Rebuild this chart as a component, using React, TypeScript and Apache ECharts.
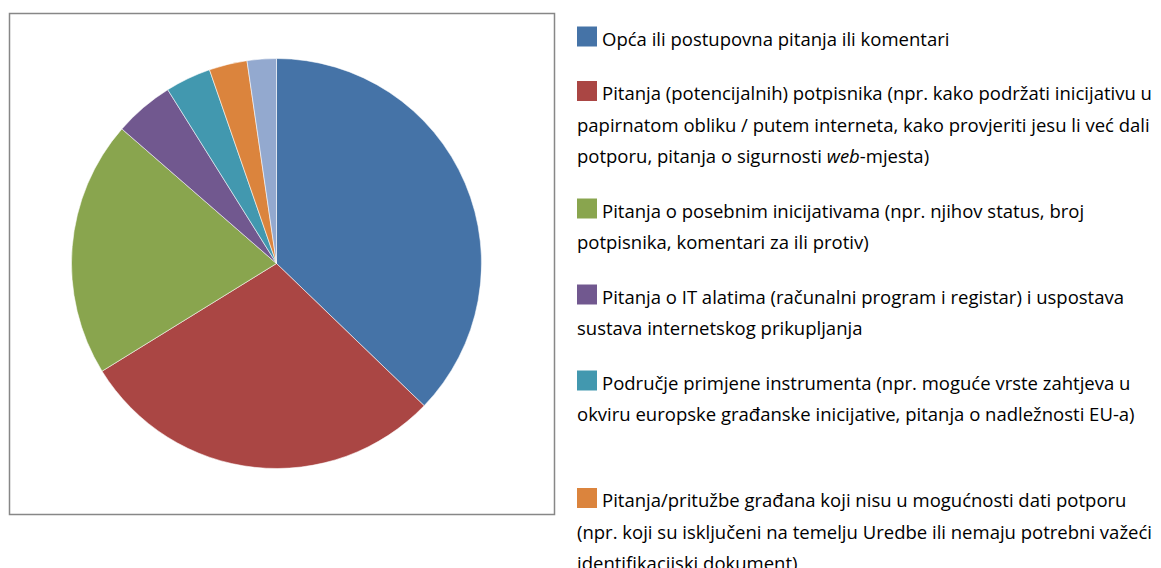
import React, { useEffect, useRef } from "react";
import * as echarts from "echarts";

const categories = [
  "Opća ili postupovna pitanja ili komentari",
  "Pitanja (potencijalnih) potpisnika",
  "Pitanja o posebnim inicijativama",
  "Pitanja o IT alatima",
  "Područje primjene instrumenta",
  "Pitanja/pritužbe građana koji nisu u mogućnosti dati potporu",
  "Ostalo",
];

const values = [37.2, 29.0, 20.2, 4.7, 3.6, 3.0, 2.3];

const colors = ["#4573A7", "#AA4644", "#89A54E", "#71588F", "#4298AF", "#DB843D", "#93A9CF"];

// legend text lines (visible part of the legend)
const legendLines: string[][] = [
  ["Opća ili postupovna pitanja ili komentari"],
  [
    "Pitanja (potencijalnih) potpisnika (npr. kako podržati inicijativu u",
    "papirnatom obliku / putem interneta, kako provjeriti jesu li već dali",
    "potporu, pitanja o sigurnosti {i|web}-mjesta)",
  ],
  [
    "Pitanja o posebnim inicijativama (npr. njihov status, broj",
    "potpisnika, komentari za ili protiv)",
  ],
  [
    "Pitanja o IT alatima (računalni program i registar) i uspostava",
    "sustava internetskog prikupljanja",
  ],
  [
    "Područje primjene instrumenta (npr. moguće vrste zahtjeva u",
    "okviru europske građanske inicijative, pitanja o nadležnosti EU-a)",
    "",
  ],
  [
    "Pitanja/pritužbe građana koji nisu u mogućnosti dati potporu",
    "(npr. koji su isključeni na temelju Uredbe ili nemaju potrebni važeći",
    "identifikacijski dokument)",
  ],
];

export default function App() {
  const ref = useRef<HTMLDivElement>(null);
  useEffect(() => {
    if (!ref.current) return;
    const chart = echarts.init(ref.current, null, { renderer: "svg" });
    const font = "Open Sans";
    const fontSize = 18.5;
    const lineH = 31.5;
    const gap = 54.5;
    const legendX = 577;
    const sq = 20;
    const graphics: any[] = [];
    graphics.push({
      type: "rect",
      shape: { x: 9.5, y: 13.5, width: 545, height: 501 },
      style: { fill: "#fff", stroke: "#878787", lineWidth: 1.5 },
      z: -10,
    });
    let y = 38;
    legendLines.forEach((lines, i) => {
      graphics.push({
        type: "rect",
        shape: { x: legendX, y: y - 11.5, width: sq, height: sq },
        style: { fill: colors[i] },
      });
      lines.forEach((ln, j) => {
        if (!ln) return;
        graphics.push({
          type: "text",
          x: j === 0 ? legendX + sq + 5 : legendX,
          y: y + j * lineH,
          style: {
            text: ln,
            fontFamily: font,
            fontSize,
            fill: "#000",
            verticalAlign: "middle",
            align: "left",
            rich: {
              i: { fontStyle: "italic", fontFamily: font, fontSize, fill: "#000" },
            },
          },
        });
      });
      y += (lines.length - 1) * lineH + gap;
    });
    chart.setOption({
      animation: false,
      graphic: graphics,
      series: [
        {
          type: "pie",
          center: [276.5, 263.5],
          radius: 205,
          startAngle: 90,
          clockwise: true,
          label: { show: false },
          labelLine: { show: false },
          silent: true,
          itemStyle: { borderColor: "rgba(255,255,255,0.55)", borderWidth: 1 },
          data: categories.map((name, i) => ({
            name,
            value: values[i],
            itemStyle: { color: colors[i] },
          })),
          z: 5,
        },
      ],
    });
    return () => chart.dispose();
  }, []);
  return (
    <div
      ref={ref}
      style={{ position: "fixed", left: 0, top: 0, width: 1161, height: 568, background: "#fff" }}
    />
  );
}
